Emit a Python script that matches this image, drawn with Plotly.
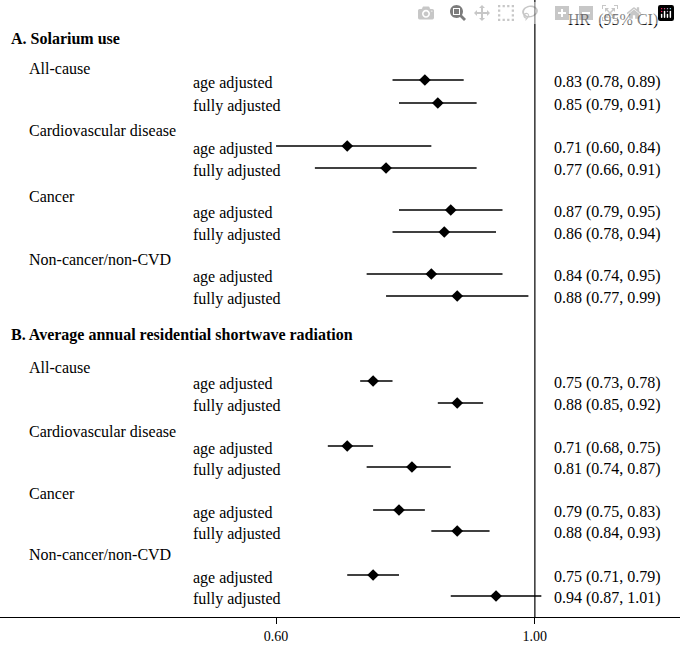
import plotly.graph_objects as go

sections = ["A. Solarium use", "B. Average annual residential shortwave radiation"]
outcomes = ["All-cause", "Cardiovascular disease", "Cancer", "Non-cancer/non-CVD"]
models = ["age adjusted", "fully adjusted"]

hr_a = [0.83, 0.85, 0.71, 0.77, 0.87, 0.86, 0.84, 0.88]
lo_a = [0.78, 0.79, 0.60, 0.66, 0.79, 0.78, 0.74, 0.77]
hi_a = [0.89, 0.91, 0.84, 0.91, 0.95, 0.94, 0.95, 0.99]
hr_b = [0.75, 0.88, 0.71, 0.81, 0.79, 0.88, 0.75, 0.94]
lo_b = [0.73, 0.85, 0.68, 0.74, 0.75, 0.84, 0.71, 0.87]
hi_b = [0.78, 0.92, 0.75, 0.87, 0.83, 0.93, 0.79, 1.01]

tick_vals = [0.60, 1.00]
tick_text = ["0.60", "1.00"]

# layout row positions (pixels from top)
sec_y = [38, 335]
out_y = [[68, 130, 196, 259], [367, 431, 493, 554]]
row_y = [[80, 103, 146, 168, 210, 232, 274, 296],
         [381, 403, 446, 467, 510, 531, 575, 596]]

W, H, B = 680, 651, 34
FONT = "Liberation Serif"
FS = 16
fig = go.Figure()
ann = []
def px(x):
    return x / W

ann.append(dict(x=px(566), y=20, text="HR  (95% CI)", xanchor="left"))
for s, (name, hr, lo, hi) in enumerate(zip(sections, [hr_a, hr_b], [lo_a, lo_b], [hi_a, hi_b])):
    ann.append(dict(x=px(9), y=sec_y[s], text="<b>" + name + "</b>", xanchor="left"))
    for o, oname in enumerate(outcomes):
        ann.append(dict(x=px(27), y=out_y[s][o], text=oname, xanchor="left"))
    ys = row_y[s]
    for i in range(8):
        ann.append(dict(x=px(191), y=ys[i] + 3, text=models[i % 2], xanchor="left"))
        ann.append(dict(x=px(552), y=ys[i] + 2,
                        text=f"{hr[i]:.2f} ({lo[i]:.2f}, {hi[i]:.2f})", xanchor="left"))
        fig.add_trace(go.Scatter(x=[lo[i], hi[i]], y=[ys[i], ys[i]], mode="lines",
                                 line=dict(color="black", width=1.5), showlegend=False))
    fig.add_trace(go.Scatter(x=hr, y=ys, mode="markers", showlegend=False,
                             marker=dict(symbol="diamond", size=9, color="black")))

for a in ann:
    a.update(xref="paper", yref="y", showarrow=False, yanchor="middle",
             font=dict(family=FONT, size=FS, color="black"))

fig.add_shape(type="line", x0=1.0, x1=1.0, y0=0, y1=H - B, xref="x", yref="y",
              line=dict(color="black", width=1.2))

fig.update_layout(width=W, height=H, margin=dict(l=0, r=0, t=0, b=B),
                  plot_bgcolor="white", paper_bgcolor="white", annotations=ann,
                  font=dict(family=FONT, size=FS, color="black"))
fig.update_xaxes(range=[0.60 - 272 / 637.5, 1.00 + 143 / 637.5], tickvals=tick_vals,
                 ticktext=tick_text, showline=True, linecolor="black", linewidth=1.2,
                 ticks="outside", ticklen=6, tickcolor="black", showgrid=False,
                 zeroline=False, tickfont=dict(family=FONT, size=14))
fig.update_yaxes(range=[H - B, 0], visible=False, showgrid=False)
fig.write_html("out.html", post_script="document.body.style.margin='0';")
